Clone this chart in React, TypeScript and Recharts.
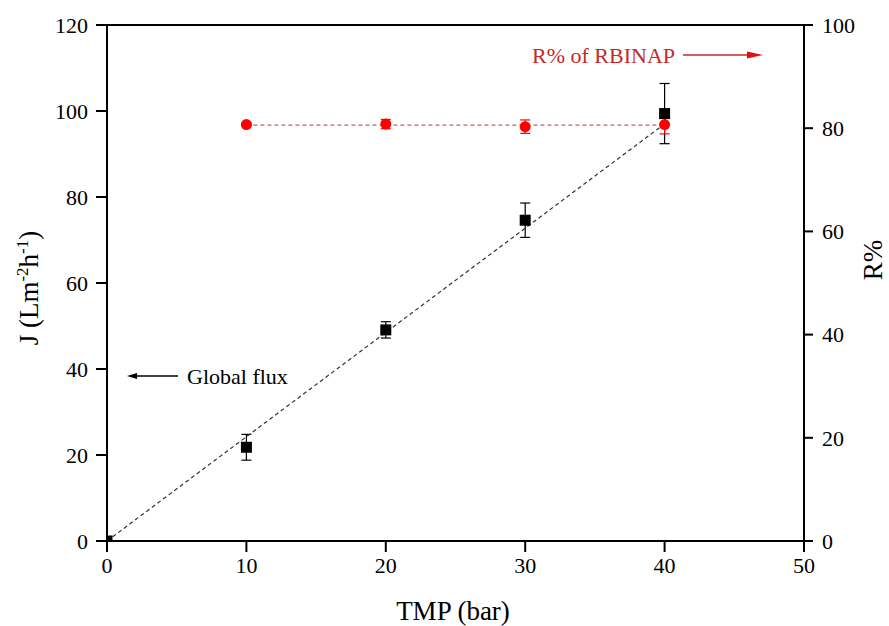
import React from 'react';
import {
  ComposedChart,
  Scatter,
  XAxis,
  YAxis,
  ErrorBar,
  ReferenceLine,
  Customized,
} from 'recharts';

// TMP (bar) vs global flux J
const tmp = [0, 10, 20, 30, 40];
const flux = [0, 21.8, 49.1, 74.6, 99.4];
const fluxErr = [0, 3, 1.9, 4, 7];

// TMP (bar) vs rejection R% of RBINAP
const tmpR = [10, 20, 30, 40];
const rejection = [80.7, 80.8, 80.3, 80.7];
const rejectionErr = [0.3, 0.9, 1.3, 1.8];

// dashed trend lines
const fluxFitX = [0, 40];
const fluxFitY = [0, 97];
const rejFitX = [10, 40];
const rejFitY = [80.6, 80.6];

const xTicks = [0, 10, 20, 30, 40, 50];
const jTicks = [0, 20, 40, 60, 80, 100, 120];
const rTicks = [0, 20, 40, 60, 80, 100];

const font = '"Liberation Serif", "Times New Roman", serif';

const fluxData = tmp.map((x, i) => ({ x, y: flux[i], e: fluxErr[i] }));
const rejData = tmpR.map((x, i) => ({ x, y: rejection[i], e: rejectionErr[i] }));
const fluxFit = fluxFitX.map((x, i) => ({ x, y: fluxFitY[i] }));
const rejFit = rejFitX.map((x, i) => ({ x, y: rejFitY[i] }));

const Square = (p: any) => (
  <rect x={p.cx - 5.5} y={p.cy - 5.5} width={11} height={11} fill="#000" />
);
const Dot = (p: any) => <circle cx={p.cx} cy={p.cy} r={5.5} fill="#f00" />;
const NoMark = () => <g />;

const axisLine = { stroke: '#000', strokeWidth: 2 };
const tickLine = { stroke: '#000', strokeWidth: 2 };
const tickText = { fill: '#000', fontSize: 22, fontFamily: font };

function Annotations() {
  return (
    <g fontFamily={font}>
      {/* axis titles */}
      <text
        transform="translate(38,288) rotate(-90)"
        textAnchor="middle"
        fontSize={27}
        fill="#000"
      >
        J (Lm
        <tspan fontSize={17} dy={-10}>-2</tspan>
        <tspan dy={10}>h</tspan>
        <tspan fontSize={17} dy={-10}>-1</tspan>
        <tspan dy={10}>)</tspan>
      </text>
      <text
        transform="translate(882,260) rotate(-90)"
        textAnchor="middle"
        fontSize={27}
        fill="#000"
      >
        R%
      </text>
      <text x={453} y={620} textAnchor="middle" fontSize={27} fill="#000">
        TMP (bar)
      </text>

      {/* series notes */}
      <text x={532} y={63} fontSize={22} fill="#c62828">
        R% of RBINAP
      </text>
      <line x1={683} y1={55} x2={750} y2={55} stroke="#c62828" strokeWidth={1.3} />
      <polygon points="763,55 747,51.5 747,58.5" fill="#e01010" />

      <text x={187} y={384} fontSize={22} fill="#000">
        Global flux
      </text>
      <line x1={132} y1={376} x2={178} y2={376} stroke="#000" strokeWidth={1.3} />
      <polygon points="127,376 137,373 137,379" fill="#000" />
    </g>
  );
}

export default function App() {
  return (
    <div style={{ position: 'absolute', left: 0, top: 0, background: '#fff' }}>
      <ComposedChart
        width={889}
        height={626}
        margin={{ top: 25, right: 0, bottom: 0, left: 0 }}
      >
        <XAxis
          type="number"
          dataKey="x"
          domain={[0, 50]}
          ticks={xTicks}
          height={85}
          tickSize={11}
          tickMargin={5}
          axisLine={axisLine}
          tickLine={tickLine}
          tick={tickText}
          allowDataOverflow
        />
        <YAxis
          yAxisId="J"
          type="number"
          dataKey="y"
          domain={[0, 120]}
          ticks={jTicks}
          width={107}
          tickSize={11}
          tickMargin={8}
          axisLine={axisLine}
          tickLine={tickLine}
          tick={tickText}
          allowDataOverflow
        />
        <YAxis
          yAxisId="R"
          orientation="right"
          type="number"
          dataKey="y"
          domain={[0, 100]}
          ticks={rTicks}
          width={85}
          tickSize={9}
          tickMargin={9}
          axisLine={axisLine}
          tickLine={tickLine}
          tick={tickText}
          allowDataOverflow
        />
        <ReferenceLine yAxisId="J" y={120} stroke="#000" strokeWidth={2} />

        <Scatter
          yAxisId="J"
          data={fluxFit}
          line={{ stroke: '#333', strokeWidth: 1.2, strokeDasharray: '4 3' }}
          shape={NoMark}
          isAnimationActive={false}
        />
        <Scatter
          yAxisId="R"
          data={rejFit}
          line={{ stroke: '#d65a5a', strokeWidth: 1.2, strokeDasharray: '4 3' }}
          shape={NoMark}
          isAnimationActive={false}
        />
        <Scatter
          yAxisId="J"
          data={fluxData}
          shape={Square}
          isAnimationActive={false}
        >
          <ErrorBar dataKey="e" direction="y" width={5} stroke="#000" strokeWidth={1.2} />
        </Scatter>
        <Scatter
          yAxisId="R"
          data={rejData}
          shape={Dot}
          isAnimationActive={false}
        >
          <ErrorBar dataKey="e" direction="y" width={5} stroke="#f00" strokeWidth={1.2} />
        </Scatter>
        <Customized component={Annotations} />
      </ComposedChart>
    </div>
  );
}
